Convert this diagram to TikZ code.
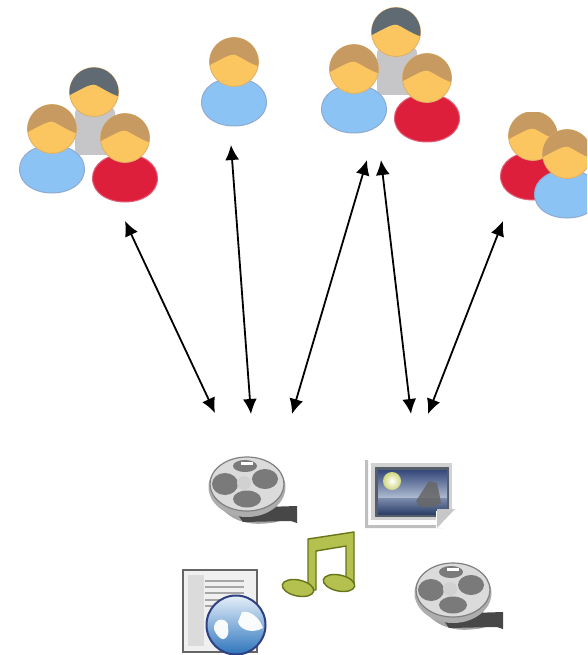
\documentclass[tikz,border=0pt]{standalone}
\usetikzlibrary{arrows.meta}
\definecolor{skin}{HTML}{FBC55F}
\definecolor{skinedge}{HTML}{DDB06A}
\definecolor{hairbrown}{HTML}{C69A60}
\definecolor{hairdark}{HTML}{5F6A72}
\definecolor{shirtblue}{HTML}{8CC3F5}
\definecolor{edgeblue}{HTML}{8FAAD0}
\definecolor{shirtred}{HTML}{DE1F3B}
\definecolor{edgered}{HTML}{E0607A}
\definecolor{shirtgray}{HTML}{C6C6C8}
\definecolor{notedark}{HTML}{66751A}
\definecolor{notelight}{HTML}{B4C14E}
\definecolor{skytop}{HTML}{34487A}
\definecolor{skylow}{HTML}{B0BCD2}
\definecolor{seatop}{HTML}{7C8CAE}
\definecolor{seabot}{HTML}{2C4068}
\definecolor{framedark}{HTML}{555C6A}
\definecolor{globetop}{HTML}{E6F0FA}
\definecolor{globebot}{HTML}{2C74BC}
\definecolor{globeedge}{HTML}{2F3F80}
\tikzset{
  link/.style={draw=black,line width=1.8pt,{Latex[length=15pt,width=14pt]}-{Latex[length=15pt,width=14pt]}},
  pics/headshape/.style={code={
    \fill[skin,draw=skinedge,line width=.8pt] (0,0) circle (24.5);
    \begin{scope}
      \clip (0,0) circle (24.5);
      \fill[#1] (-30,-30) -- (30,-30) -- (30,6) .. controls (18,3) and (10,-3) .. (2,-7)
        .. controls (-4,-9) and (-12,-3) .. (-30,6) -- cycle;
    \end{scope}
  }},
  pics/person/.style 2 args={code={
    \fill[#1,draw=#2,line width=1pt] (-32.5,40) .. controls (-32.5,26) and (-18,16) .. (0,16)
      .. controls (18,16) and (32.5,26) .. (32.5,40)
      .. controls (32.5,56) and (16,64) .. (0,64)
      .. controls (-16,64) and (-32.5,56) .. (-32.5,40) -- cycle;
    \pic {headshape=hairbrown};
  }},
  pics/backperson/.style={code={
    \fill[shirtgray,rounded corners=6pt] (-19,15) rectangle (21,63);
    \pic {headshape=hairdark};
  }},
  pics/crowd/.style={code={
    \pic at (42,-37) {backperson};
    \pic at (0,0) {person={shirtblue}{edgeblue}};
    \pic at (73,9) {person={shirtred}{edgered}};
  }},
  pics/reel/.style={code={
    \fill[black!35] (-24,26) .. controls (-8,42) and (12,41) .. (30,38) -- (30,20) -- (-14,18) -- cycle;
    \fill[black!72] (-14,24) -- (50,22) -- (50,39) -- (44,37) -- (-4,38) -- cycle;
    \fill[black!32] (0,3) ellipse (38.5 and 30);
    \fill[black!14,draw=black!50,line width=1.2pt] (0,0) ellipse (37 and 27);
    \fill[black!52] (-22,0) ellipse (13 and 11);
    \fill[black!52] (18,-5) ellipse (13 and 10);
    \fill[black!52] (0,15) ellipse (14 and 8.5);
    \fill[black!52] (-2,-18) ellipse (12 and 6);
    \fill[white] (-6,-22) rectangle (6,-19);
    \fill[black!18] (-3,-1) circle (7);
  }}
}
\begin{document}
\begin{tikzpicture}[x=1pt,y=-1pt]
\useasboundingbox (0,0) rectangle (587,655);

% people
\pic at (52,129) {crowd};
\pic at (234,62) {person={shirtblue}{edgeblue}};
\pic at (354,69) {crowd};
\begin{scope}
  \clip (500,113) rectangle (587,222);
  \pic at (533,136) {person={shirtred}{edgered}};
  \pic at (567,154) {person={shirtblue}{edgeblue}};
\end{scope}

% reels
\pic at (247,484) {reel};
\pic at (453,590) {reel};

% picture icon
\fill[black!25] (365,460) rectangle (368,528) (365,525) rectangle (445,528);
\fill[black!18] (371,463) rectangle (452,520);
\fill[framedark] (375,467) rectangle (449,517);
\shade[top color=skytop,bottom color=skylow] (378,470) rectangle (447,498);
\shade[top color=seatop,bottom color=seabot] (378,498) rectangle (447,514);
\shade[inner color=white,outer color=skylow!60!yellow] (392,481) circle (9);
\fill[black!60,opacity=.85] (429,481) -- (437,483) -- (440,497) -- (441,503) -- (433,507) -- (420,507) -- (416,501) -- cycle;
\fill[white] (436,511) rectangle (455,528);
\fill[black!22] (455,509) -- (437,509) -- (437,528) -- cycle;

% music note
\fill[notelight,draw=notedark,line width=1.4pt,line join=round]
  (308,539) -- (354,532) -- (354,583) -- (346,584) -- (346,546) -- (316,551) -- (316,590) -- (308,590) -- cycle;
\fill[notelight,draw=notedark,line width=1.4pt,rotate around={-12:(298,588)}] (298,588) ellipse (16 and 8);
\fill[notelight,draw=notedark,line width=1.4pt,rotate around={-12:(339,583)}] (339,583) ellipse (16 and 8);

% web page
\fill[black!6,draw=black!60,line width=1.6pt] (183,570) rectangle (257,652);
\fill[black!14] (188,575) rectangle (204,646);
\foreach \yy in {581,587,593,600,606}{\fill[black!35] (205,\yy-1) rectangle (244,\yy+1);}
\shade[top color=globetop,bottom color=globebot] (236,625) circle (29.5);
\draw[globeedge,line width=2pt] (236,625) circle (29.5);
\fill[white,opacity=.95] (216,622) .. controls (222,616) and (230,622) .. (228,628)
  .. controls (230,636) and (224,642) .. (220,638) .. controls (214,632) and (212,628) .. (216,622) -- cycle;
\fill[white,opacity=.95] (242,612) .. controls (250,610) and (260,618) .. (263,628)
  .. controls (252,634) and (240,630) .. (238,622) -- cycle;

% connectors
\coordinate (p1) at (125,221);
\coordinate (m1) at (215,413);
\coordinate (p2) at (231,145);
\coordinate (m2) at (251,414);
\coordinate (p3) at (367,160);
\coordinate (m3) at (292,414);
\coordinate (p4) at (381,160);
\coordinate (m4) at (411,414);
\coordinate (p5) at (503,221);
\coordinate (m5) at (428,414);
\draw[link] (p1) -- (m1);
\draw[link] (p2) -- (m2);
\draw[link] (p3) -- (m3);
\draw[link] (p4) -- (m4);
\draw[link] (p5) -- (m5);
\end{tikzpicture}
\end{document}
